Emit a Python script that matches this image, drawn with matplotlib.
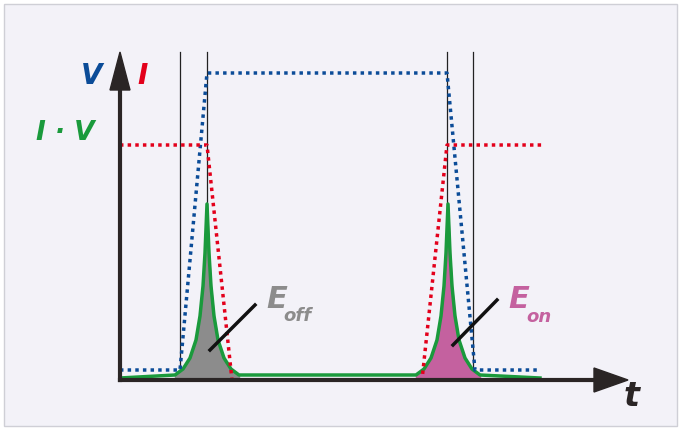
import matplotlib
matplotlib.use("Agg")
import matplotlib.pyplot as plt
from matplotlib.patches import Rectangle

# pixel-space data
v_x = [120, 180, 207, 447, 475, 540]
v_y = [370, 370, 73, 73, 370, 370]
i_x = [120, 207, 232, 422, 447, 545]
i_y = [145, 145, 380, 380, 145, 145]
spike_dx = [-32, -24, -17, -11, -7, -4, -2, 0, 2, 4, 7, 11, 17, 24, 32]
spike_h = [3, 9, 20, 38, 62, 92, 125, 174, 125, 92, 62, 38, 20, 9, 3]
spike_centers = [207, 448]
baseline = 378
guides_x = [180, 207, 447, 473]

fig = plt.figure(figsize=(6.81, 4.30), dpi=100)
fig.patch.set_facecolor("white")
ax = fig.add_axes([0, 0, 1, 1])
ax.set_xlim(0, 681); ax.set_ylim(430, 0); ax.axis("off")
ax.add_patch(Rectangle((4, 4), 673, 422, facecolor="#f3f2f8", edgecolor="#cfcfd6", lw=1))

for gx in guides_x:
    ax.plot([gx, gx], [52, 380], color="#222", lw=0.9)

fills = ["#8c8c8c", "#c4619f"]
gx_all, gy_all = [120], [baseline]
for c, fc in zip(spike_centers, fills):
    xs = [c + d for d in spike_dx]
    ys = [baseline - h for h in spike_h]
    ax.fill_between(xs, ys, baseline, color=fc, zorder=2)
    gx_all += xs; gy_all += ys
gx_all.append(540); gy_all.append(baseline)
ax.plot(gx_all, gy_all, color="#1a9a3c", lw=2.5, zorder=4)

ax.plot(v_x, v_y, color="#0b4c98", lw=2.5, ls=(0, (1, 1.2)), zorder=5)
ax.plot(i_x, i_y, color="#e3001b", lw=2.5, ls=(0, (1, 1.2)), zorder=5)

ax.plot([120, 600], [380, 380], color="#2a2525", lw=3, zorder=6)
ax.plot([120, 120], [380, 80], color="#2a2525", lw=3, zorder=6)
ax.add_patch(plt.Polygon([[594, 368], [628, 380], [594, 392]], color="#2a2525", zorder=6))
ax.add_patch(plt.Polygon([[110, 90], [120, 52], [130, 90]], color="#2a2525", zorder=6))

ax.plot([210, 255], [350, 305], color="#111", lw=2.5, zorder=6)
ax.plot([453, 497], [345, 300], color="#111", lw=2.5, zorder=6)

kw = dict(family="DejaVu Sans", fontweight="bold", fontstyle="italic", zorder=7)
ax.text(92, 76, "V", color="#0b4c98", fontsize=20, ha="center", va="center", **kw)
ax.text(143, 76, "I", color="#e3001b", fontsize=20, ha="center", va="center", **kw)
ax.text(65, 133, "I · V", color="#1a9a3c", fontsize=19, ha="center", va="center", **kw)
ax.text(266, 300, "E", color="#8c8c8c", fontsize=22, ha="left", va="center", **kw)
ax.text(283, 316, "off", color="#8c8c8c", fontsize=13, ha="left", va="center", **kw)
ax.text(508, 300, "E", color="#c4619f", fontsize=22, ha="left", va="center", **kw)
ax.text(526, 317, "on", color="#c4619f", fontsize=13, ha="left", va="center", **kw)
ax.text(632, 396, "t", color="#2a2525", fontsize=24, ha="center", va="center", **kw)

fig.savefig("out.png", dpi=100)
